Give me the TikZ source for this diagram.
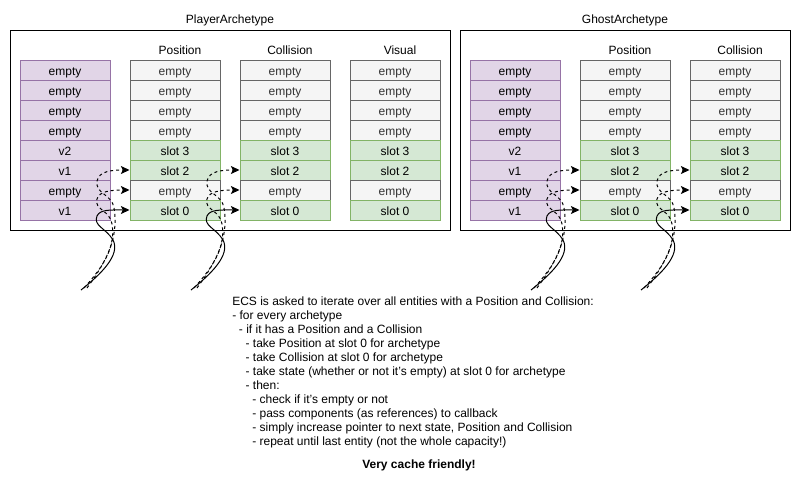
\documentclass[tikz,border=0pt]{standalone}
\usepackage{fontspec}
\setmainfont{Liberation Sans}
\usetikzlibrary{arrows.meta}
\definecolor{purpF}{HTML}{E1D5E7}
\definecolor{purpD}{HTML}{9673A6}
\definecolor{grnF}{HTML}{D5E8D4}
\definecolor{grnD}{HTML}{82B366}
\definecolor{gryF}{HTML}{F5F5F5}
\definecolor{gryD}{HTML}{666666}
\definecolor{gryT}{HTML}{333333}
\tikzset{
  cell/.style={minimum width=67.5pt, minimum height=15pt, inner sep=0pt, line width=0.75pt, font=\fontsize{9}{10}\selectfont, text depth=0pt, text height=8.5pt},
  statecell/.style={cell, fill=purpF, draw=purpD, text=black},
  slotcell/.style={cell, fill=grnF, draw=grnD, text=black},
  emptycell/.style={cell, fill=gryF, draw=gryD, text=gryT},
  hdr/.style={font=\fontsize{9}{10}\selectfont, inner sep=0pt},
  archbox/.style={draw=black, line width=0.75pt},
  link/.style={line width=0.75pt, -{Stealth[length=6.5pt,width=6pt,inset=1.5pt]}},
  dlink/.style={link, dashed, dash pattern=on 2.25pt off 2.25pt}
}
\begin{document}
\begin{tikzpicture}[x=0.75pt,y=-0.75pt]
\useasboundingbox (0,0) rectangle (802,483);
% archetype boxes
\node[hdr] (ptitle) at (230,20) {PlayerArchetype};
\node[hdr] (gtitle) at (625,20) {GhostArchetype};
\draw[archbox] (10,30) rectangle (450,230);
\draw[archbox] (460,30) rectangle (790,230);
% headers
\node[hdr] (hpp) at (180,50) {Position};
\node[hdr] (hpc) at (290,50) {Collision};
\node[hdr] (hpv) at (400,50) {Visual};
\node[hdr] (hgp) at (630,50) {Position};
\node[hdr] (hgc) at (740,50) {Collision};
% state columns
\foreach \pre/\cx in {pa/65, ga/515}{
  \foreach \lab [count=\i from 0] in {empty,empty,empty,empty,v2,v1,empty,v1}{
    \node[statecell] (\pre-s-\i) at (\cx,{70+20*\i}) {\lab};
  }
}
% component columns
\foreach \nm/\cx in {pa-p/175, pa-c/285, pa-v/395, ga-p/625, ga-c/735}{
  \foreach \lab/\st [count=\i from 0] in {empty/emptycell,empty/emptycell,empty/emptycell,empty/emptycell,slot 3/slotcell,slot 2/slotcell,empty/emptycell,slot 0/slotcell}{
    \node[\st] (\nm-\i) at (\cx,{70+20*\i}) {\lab};
  }
}
% iteration pointers
\foreach \dx/\tg [count=\k] in {0/pa-p, 110/pa-c, 450/ga-p, 560/ga-c}{
  \coordinate (src\k a) at ({81+\dx},290);
  \coordinate (src\k b) at ({84+\dx},288);
  \coordinate (src\k c) at ({87+\dx},288);
  \draw[link] (src\k a) .. controls ({100+\dx},275) and ({121+\dx},255) .. ({113+\dx},240)
     .. controls ({106+\dx},228) and ({93+\dx},226) .. ({97+\dx},216)
     .. controls ({100+\dx},209) and ({112+\dx},210) .. (\tg-7.west);
  \draw[dlink] (src\k b) .. controls ({102+\dx},268) and ({116+\dx},248) .. ({112+\dx},224)
     .. controls ({110+\dx},210) and ({94+\dx},210) .. ({97+\dx},199)
     .. controls ({99+\dx},191) and ({112+\dx},190) .. (\tg-6.west);
  \draw[dlink] (src\k c) .. controls ({106+\dx},262) and ({119+\dx},238) .. ({114+\dx},208)
     .. controls ({112+\dx},194) and ({95+\dx},194) .. ({97+\dx},181)
     .. controls ({99+\dx},171) and ({112+\dx},170) .. (\tg-5.west);
}
% description
\node[anchor=north west, align=left, inner sep=0pt, font=\fontsize{9}{10.5}\selectfont] (desc) at (232,296.5) {%
ECS is asked to iterate over all entities with a Position and Collision:\\
- for every archetype\\
\hspace*{5pt}- if it has a Position and a Collision\\
\hspace*{10pt}- take Position at slot 0 for archetype\\
\hspace*{10pt}- take Collision at slot 0 for archetype\\
\hspace*{10pt}- take state (whether or not it's empty) at slot 0 for archetype\\
\hspace*{10pt}- then:\\
\hspace*{15pt}- check if it's empty or not\\
\hspace*{15pt}- pass components (as references) to callback\\
\hspace*{15pt}- simply increase pointer to next state, Position and Collision\\
\hspace*{15pt}- repeat until last entity (not the whole capacity!)};
\node[hdr, font=\fontsize{9}{10}\bfseries] (cache) at (419,465) {Very cache friendly!};
\end{tikzpicture}
\end{document}
